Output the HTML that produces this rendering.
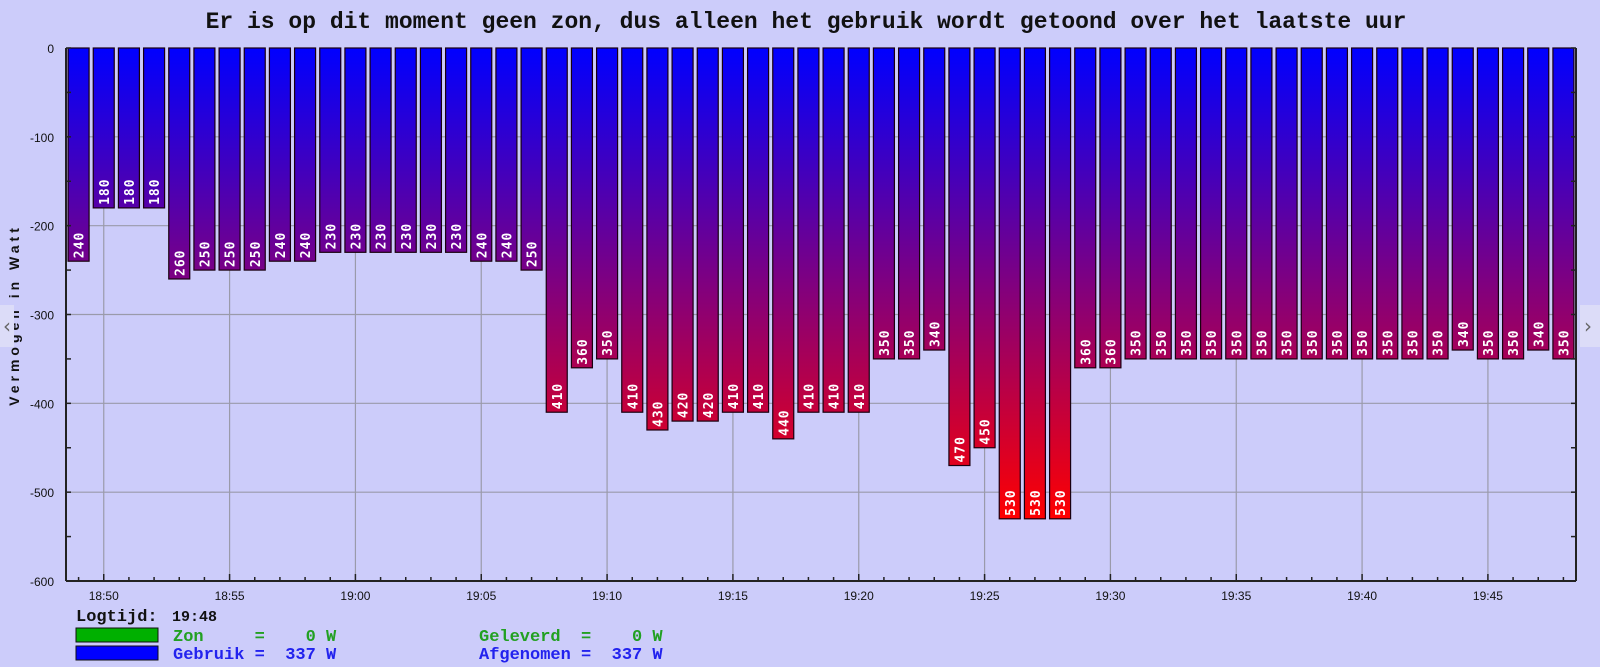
<!DOCTYPE html>
<html><head><meta charset="utf-8">
<style>
html,body{margin:0;padding:0;background:#ccccfa;}
svg{display:block;}
</style></head>
<body>
<svg id="chart" width="1600" height="667" xmlns="http://www.w3.org/2000/svg">
<defs>
<linearGradient id="barGrad" gradientUnits="userSpaceOnUse" x1="0" y1="48" x2="0" y2="519">
<stop offset="0" stop-color="#0000ff"/><stop offset="1" stop-color="#ff0000"/>
</linearGradient>
</defs>
<rect x="0" y="0" width="1600" height="667" fill="#ccccfa"/>
<text x="806" y="28" text-anchor="middle" font-family="Liberation Mono, monospace" font-weight="bold" font-size="23" fill="#111">Er is op dit moment geen zon, dus alleen het gebruik wordt getoond over het laatste uur</text>
<g id="grid"></g>
<g id="bars"></g>
<g id="axes"></g>
<text transform="translate(19,315) rotate(-90)" text-anchor="middle" font-family="Liberation Sans, sans-serif" font-weight="bold" font-size="14" letter-spacing="4" fill="#111">Vermogen in Watt</text>
<g font-family="Liberation Mono, monospace" font-weight="bold" font-size="17">
<text x="76" y="621" fill="#111">Logtijd:</text>
<text x="172" y="621" fill="#111" font-size="15">19:48</text>
<rect x="76" y="628" width="82" height="14" fill="#00b000" stroke="#111"/>
<rect x="76" y="646" width="82" height="14" fill="#0000ff" stroke="#111"/>
<text x="173" y="641" fill="#22a022" xml:space="preserve">Zon     =    0 W</text>
<text x="173" y="659" fill="#2222ee" xml:space="preserve">Gebruik =  337 W</text>
<text x="479" y="641" fill="#22a022" xml:space="preserve">Geleverd  =    0 W</text>
<text x="479" y="659" fill="#2222ee" xml:space="preserve">Afgenomen =  337 W</text>
</g>
<g><rect x="0" y="305" width="14" height="42" fill="#dcdcf8"/><text x="3" y="333" font-family="DejaVu Sans, sans-serif" font-size="20" fill="#666">‹</text></g>
<g><rect x="1580" y="305" width="20" height="42" fill="#dcdcf8"/><text x="1584" y="333" font-family="DejaVu Sans, sans-serif" font-size="20" fill="#666">›</text></g>
</svg>
<script>
const startMinute = 18*60+49;
const values = [240,180,180,180,260,250,250,250,240,240,230,230,230,230,230,230,240,240,250,
410,360,350,410,430,420,420,410,410,440,410,410,410,350,350,340,470,450,530,530,530,360,360,
350,350,350,350,350,350,350,350,350,350,350,350,350,340,350,350,340,350];
const yTicks = [0,-100,-200,-300,-400,-500,-600];
const xTickLabels = ["18:50","18:55","19:00","19:05","19:10","19:15","19:20","19:25","19:30","19:35","19:40","19:45"];

const NS="http://www.w3.org/2000/svg";
const X0=66,X1=1576,Y0=48,Y1=581;
const xMin=startMinute-0.5, xMax=startMinute+values.length-0.5;
function xs(m){return X0+(m-xMin)/(xMax-xMin)*(X1-X0);}
function ys(v){return Y0+(0-v)/600*(Y1-Y0);}
function mk(tag,attrs,parent){const e=document.createElementNS(NS,tag);for(const k in attrs)e.setAttribute(k,attrs[k]);parent.appendChild(e);return e;}
function toMin(s){const p=s.split(":");return +p[0]*60+ +p[1];}
const grid=document.getElementById('grid'),bars=document.getElementById('bars'),axes=document.getElementById('axes');

yTicks.forEach(v=>{
  const y=ys(v);
  if(v!==0&&v!==-600){const l=mk('line',{x1:X0,x2:X1,y1:y,y2:y,stroke:'#9a9aaa','stroke-width':1.2},grid);
  
  }
  const t=mk('text',{x:54,y:y+5,'text-anchor':'end','font-family':'Liberation Sans, sans-serif','font-size':12,fill:'#111'},axes);
  t.textContent=String(v);
  
  
});
for(let v=0;v>=-600;v-=50){
  const y=ys(v);
  mk('line',{x1:X0,x2:X0+5,y1:y,y2:y,stroke:'#222','stroke-width':1.5},axes);
  mk('line',{x1:X1-5,x2:X1,y1:y,y2:y,stroke:'#222','stroke-width':1.5},axes);
}
xTickLabels.forEach(s=>{
  const x=xs(toMin(s));
  const l=mk('line',{x1:x,x2:x,y1:Y0,y2:Y1,stroke:'#9a9aaa','stroke-width':1.2},grid);
  
  
  const t=mk('text',{x:x,y:Y1+19,'text-anchor':'middle','font-family':'Liberation Sans, sans-serif','font-size':12,fill:'#111'},axes);
  t.textContent=s;
  
  
});
for(let i=0;i<values.length;i++){
  const x=xs(startMinute+i);
  const big=((startMinute+i)%5===0);
  mk('line',{x1:x,x2:x,y1:Y1,y2:Y1-(big?7:4),stroke:'#222','stroke-width':1.5},axes);
}
values.forEach((v,i)=>{
  const cx=xs(startMinute+i), w=21;
  let left=cx-w/2; if(left<X0+1) left=X0+1;
  const right=cx+w/2, yb=ys(-v);
  const r=mk('rect',{x:left,y:Y0,width:right-left,height:yb-Y0,fill:'url(#barGrad)',stroke:'#1a0010','stroke-width':1.2},bars);
  
  
  const t=mk('text',{transform:`translate(${(left+right)/2+5},${yb-3}) rotate(-90)`,'font-family':'DejaVu Sans Mono, Liberation Mono, monospace','font-weight':'bold','font-size':13,fill:'#fff','letter-spacing':1},bars);
  t.textContent=String(v);
  
  
});
mk('line',{x1:X0,x2:X0,y1:Y0,y2:Y1,stroke:'#222','stroke-width':2},axes);
mk('line',{x1:X1,x2:X1,y1:Y0,y2:Y1,stroke:'#222','stroke-width':2},axes);
mk('line',{x1:X0,x2:X1,y1:Y1,y2:Y1,stroke:'#222','stroke-width':2},axes);
</script>
</body></html>
